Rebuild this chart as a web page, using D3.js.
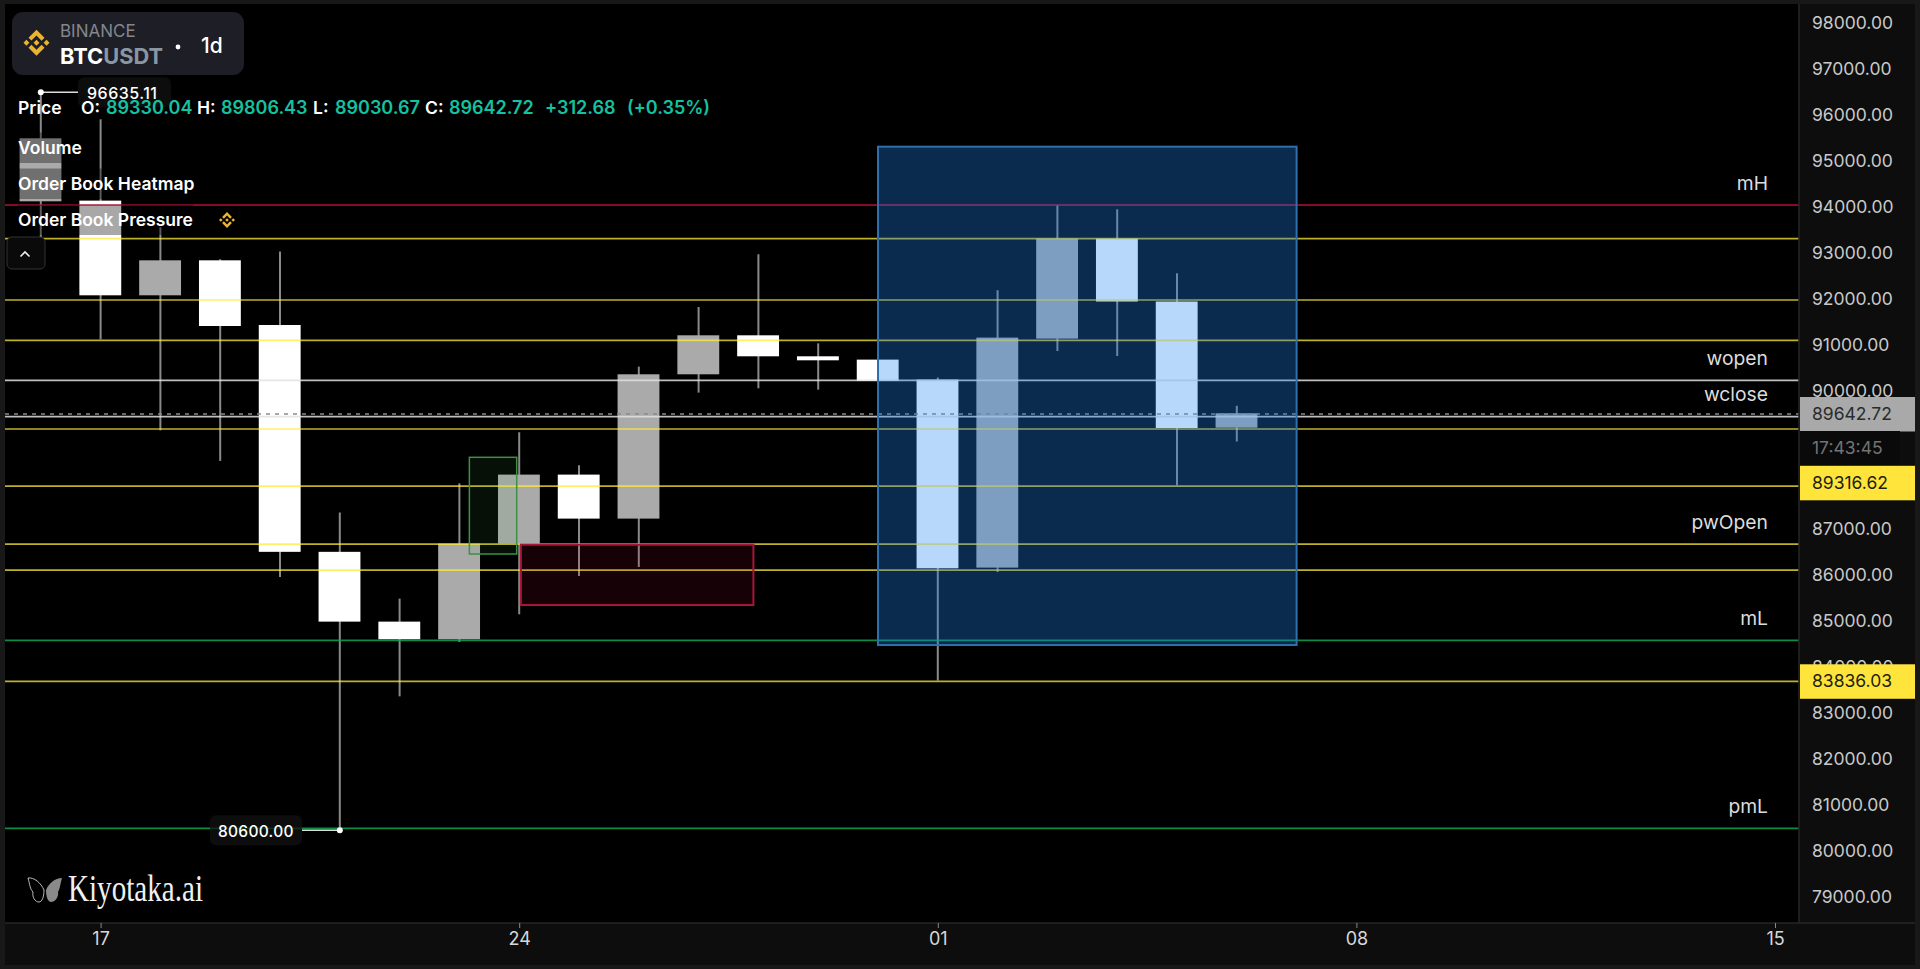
<!DOCTYPE html>
<html><head><meta charset="utf-8">
<script src="https://cdn.jsdelivr.net/npm/d3@7/dist/d3.min.js"></script>
<style>html,body{margin:0;padding:0;background:#181818;overflow:hidden}svg{display:block}text{font-family:Inter,"Noto Sans",sans-serif}</style>
</head><body><svg id="c" width="1920" height="969"></svg>
<script>
// ---- data ----
const firstDay = "2025-11-16";
const opens  = [94248,94263,92206,92966,91561,86633,85117,84733,86812,88311,87355,90490,91337,90881,90809,90375,86290,91265,93438,92071,89330];
const closes = [95617,92206,92966,91539,86633,85117,84733,86812,88311,87355,90490,91337,90881,90794,90344,86275,91287,93438,92071,89323,89642.72];
const highs  = [96635.11,96030,93683,92990,93155,87485,85617,88122,89230,88513,90657,91952,93097,91163,90809,90418,92315,94161,94074,92684,89806.43];
const lows   = [93423,91250,89273,88608,86086,80600,83494,84674,85276,86108,86303,90092,90186,90157,90344,83836.03,86195,90996,90887,88078,89030.67];
const priceTicks = [79000,80000,81000,82000,83000,84000,85000,86000,87000,90000,91000,92000,93000,94000,95000,96000,97000,98000];
const dateTicks = ["2025-11-17","2025-11-24","2025-12-01","2025-12-08","2025-12-15"];
const yellowLevels = [93451,92119,91244,89316.62,88078,86818,86253,83836.03];
const whiteLevels = [90375,89584];
const redLevels = [94183];
const greenLevels = [84726,80642];
const levelLabelNames = ["mH","wopen","wclose","pwOpen","mL","pmL"];
const levelLabelPrices = [94183,90375,89584,86818,84726,80642];
const lastPrice = 89642.72;
const countdown = "17:43:45";
const markedHigh = 96635.11, markedLow = 80600;
const ohlcLabels = ["O:","H:","L:","C:"];
const ohlcValues = ["89330.04","89806.43","89030.67","89642.72"];
const changeValues = ["+312.68","(+0.35%)"];
const legendRows = ["Volume","Order Book Heatmap","Order Book Pressure"];
const blueBox = ["2025-11-30T00:00Z","2025-12-07T00:00Z",95450,84624];
const greenBox = ["2025-11-23T04:00Z","2025-11-23T23:00Z",88702,86601];
const redBox = ["2025-11-24T00:40Z","2025-11-27T22:00Z",86803,85493];
// ---- layout ----
const parse = d => new Date(d.length === 10 ? d + "T00:00Z" : d);
const L=5,T=4,R=1799,B=923,PR=1915,PB=965;
const svg=d3.select("#c");
const x=d3.scaleUtc().domain([parse("2025-11-17"),parse("2025-12-15")]).range([100.6,1775]);
const y=d3.scaleLinear().domain([79000,98000]).range([903.9,29.3]);
const days=opens.map((_,i)=>d3.utcDay.offset(parse(firstDay),i));
const candles=days.map((d,i)=>({d,o:opens[i],c:closes[i],h:highs[i],l:lows[i]}));
const bw=(x(parse("2025-11-18"))-x(parse("2025-11-17")))*0.7;

svg.append("rect").attr("width",1920).attr("height",969).attr("fill","#181818");
svg.append("rect").attr("x",L).attr("y",T).attr("width",PR-L).attr("height",PB-T).attr("fill","#0d0d0d");
svg.append("rect").attr("x",L).attr("y",T).attr("width",R-L).attr("height",B-T).attr("fill","#000");
const plot=svg.append("g");
svg.append("clipPath").attr("id","pc").append("rect").attr("x",L).attr("y",T).attr("width",R-L).attr("height",B-T);
plot.attr("clip-path","url(#pc)");

// candles
const cg=plot.append("g").attr("transform","translate(0,-0.7)");
cg.selectAll("line.w").data(candles).join("line").attr("class","w")
 .attr("x1",d=>x(d.d)).attr("x2",d=>x(d.d)).attr("y1",d=>y(d.h)).attr("y2",d=>y(d.l))
 .attr("stroke","#8a8a8a").attr("stroke-width",2);
cg.selectAll("rect.b").data(candles).join("rect").attr("class","b")
 .attr("x",d=>x(d.d)-bw/2-0.3).attr("width",bw)
 .attr("y",d=>y(Math.max(d.o,d.c))).attr("height",d=>Math.abs(y(d.o)-y(d.c)))
 .attr("fill",d=>d.c>=d.o?"#aaaaaa":"#ffffff");

// levels
function levels(arr,col,op,w){plot.append("g").selectAll("line").data(arr).join("line")
 .attr("x1",L).attr("x2",R).attr("y1",d=>y(d)).attr("y2",d=>y(d)).attr("stroke",col).attr("stroke-opacity",op).attr("stroke-width",w);}
levels(yellowLevels,"#ffeb3b",0.75,1.7);
levels(whiteLevels,"#e0e0e0",0.85,1.7);
levels(redLevels,"#d3123f",0.85,1.7);
levels(greenLevels,"#0fa552",0.85,1.7);
plot.append("line").datum(lastPrice).attr("x1",L).attr("x2",R).attr("y1",d=>y(d)).attr("y2",d=>y(d))
 .attr("stroke","#8a8a8a").attr("stroke-width",1.5).attr("stroke-dasharray","4 5");

// boxes
function box(b,fill,stroke,w){plot.append("rect").datum(b)
 .attr("x",d=>x(parse(d[0]))).attr("width",d=>x(parse(d[1]))-x(parse(d[0])))
 .attr("y",d=>y(d[2])).attr("height",d=>y(d[3])-y(d[2]))
 .attr("fill",fill).attr("stroke",stroke).attr("stroke-width",w);}
box(greenBox,"rgba(76,175,80,0.09)","#3f8f45",1.5);
box(redBox,"rgba(214,20,60,0.1)","#a81638",2);
box(blueBox,"rgba(31,132,242,0.32)","#2f6fae",2);

// level labels
plot.append("g").selectAll("text").data(levelLabelNames).join("text")
 .attr("x",1768).attr("y",(d,i)=>y(levelLabelPrices[i])-22).attr("dy","0.35em").attr("text-anchor","end")
 .attr("fill","#dcdcdc").attr("font-size",19.3).text(d=>d);

// markers
function marker(price,day,bx,bw2,txt,tx,fs,ls){
 const g=plot.append("g"),px=x(parse(day)),py=y(price);
 g.append("rect").attr("x",bx).attr("y",py-15).attr("width",bw2).attr("height",30).attr("rx",6).attr("fill","rgba(18,18,18,0.75)");
 g.append("line").attr("x1",px).attr("x2",bx+bw2<px?bx+bw2:bx).attr("y1",py).attr("y2",py).attr("stroke","#ddd").attr("stroke-width",1.5);
 g.append("circle").attr("cx",px).attr("cy",py).attr("r",3).attr("fill","#fff");
 g.append("text").attr("x",tx).attr("y",py+1).attr("dy","0.35em").attr("fill","#fff").attr("font-size",fs).attr("font-weight",500).attr("letter-spacing",ls).text(txt);
}
marker(markedHigh,"2025-11-16",78,93,markedHigh.toFixed(2),87,16,0.5);
marker(markedLow,"2025-11-21",210,92,markedLow.toFixed(2),218,15.5,0.3);

// panels divider + axes
svg.append("line").attr("x1",R).attr("x2",R).attr("y1",T).attr("y2",B).attr("stroke","#262626").attr("stroke-width",1.5);
svg.append("line").attr("x1",L).attr("x2",PR).attr("y1",B).attr("y2",B).attr("stroke","#262626").attr("stroke-width",1.5);

const ya=svg.append("g").attr("transform","translate(1812,-6.6)")
 .call(d3.axisRight(y).tickValues(priceTicks).tickFormat(d=>d.toFixed(2)).tickSize(0).tickPadding(0));
ya.select(".domain").remove();
ya.selectAll("text").attr("fill","#c9c9c9").attr("font-size",17.5).attr("font-family","Inter");

const xa=svg.append("g").attr("transform",`translate(0,${B})`)
 .call(d3.axisBottom(x).tickValues(dateTicks.map(parse)).tickFormat(d3.utcFormat("%d")).tickSize(5).tickPadding(4));
xa.select(".domain").remove();
xa.selectAll("line").attr("stroke","#888");
xa.selectAll("text").attr("fill","#d8d8d8").attr("font-size",18).attr("font-family","Inter");

// price badges
function badge(yc,bg,fg,t,x1){svg.append("rect").attr("x",R+1).attr("y",yc-17).attr("width",x1-R-1).attr("height",34.5).attr("fill",bg);
 svg.append("text").attr("x",1812).attr("y",yc).attr("dy","0.35em").attr("fill",fg).attr("font-size",17.5).text(t);}
badge(y(lastPrice),"#a9a9a9","#2b2b2b",lastPrice.toFixed(2),PR);
badge(448,"#0a0a0a","#737373",countdown,1900);
badge(482.8,"#ffe53b","#1f1f10",(89316.62).toFixed(2),PR);
badge(y(83836.03),"#ffe53b","#1f1f10",(83836.03).toFixed(2),PR);

// symbol card
const binance=["M38.73 53.2l24.59-24.58 24.6 24.6 14.3-14.31L63.32 0 24.42 38.9l14.31 14.3z","M0 63.31l14.3-14.3 14.31 14.3-14.31 14.3z","M38.73 73.41l24.59 24.59 24.6-24.6 14.31 14.29-38.9 38.91-38.91-38.88-.02-.02 14.33-14.29z","M98 63.31l14.3-14.3 14.31 14.3-14.31 14.3z","M77.83 63.3L63.32 48.78 52.59 59.51l-1.24 1.23-2.54 2.54 14.51 14.5 14.51-14.47z"];
function icon(cx,cy,s){const g=svg.append("g").attr("transform",`translate(${cx-s/2},${cy-s/2}) scale(${s/126.61})`);
 binance.forEach(p=>g.append("path").attr("d",p).attr("fill","#e9b432"));}
svg.append("rect").attr("x",12).attr("y",12).attr("width",232).attr("height",63).attr("rx",11).attr("fill","#1e1f26");
icon(36.5,42.7,26);
svg.append("text").attr("x",60).attr("y",31).attr("dy","0.35em").attr("fill","#83868d").attr("font-size",17).text("BINANCE");
const st=svg.append("text").attr("x",60).attr("y",56).attr("dy","0.35em").attr("font-size",21.8).attr("font-weight",700);
st.append("tspan").attr("fill","#fff").text("BTC");
st.append("tspan").attr("fill","#8a96a3").text("USDT");
svg.append("circle").attr("cx",178).attr("cy",47).attr("r",2.4).attr("fill","#fff");
svg.append("text").attr("x",201).attr("y",46).attr("dy","0.35em").attr("fill","#fff").attr("font-size",21).attr("font-weight",500).text("1d");

// legend
const teal="#13c2a0";
function t(xp,yp,s,fill,fs){return svg.append("text").attr("x",xp).attr("y",yp).attr("dy","0.35em").attr("fill",fill).attr("font-size",fs).attr("font-weight",600).text(s);}
t(18,108,"Price","#fff",17.5);
[81,197,313,425].forEach((xp,i)=>t(xp,108,ohlcLabels[i],"#fff",17.5));
[106,221,335,449].forEach((xp,i)=>t(xp,108,ohlcValues[i],teal,18));
[545,627].forEach((xp,i)=>t(xp,108,changeValues[i],teal,18));
const rowY=[148,184,220],rowW=[64,176,175];
legendRows.forEach((s,i)=>{
 svg.append("rect").attr("x",18).attr("y",rowY[i]-15.5).attr("width",rowW[i]).attr("height",30.5).attr("fill","rgba(0,0,0,0.34)");
 t(18,rowY[i],s,"#fff",17.5);
});
icon(227,220,16);

// collapse button
svg.append("rect").attr("x",7).attr("y",237).attr("width",38).attr("height",32).attr("rx",5).attr("fill","#0a0a0a").attr("stroke","#333");
svg.append("path").attr("d","M20.5 256.5l4.5-4.5 4.5 4.5").attr("fill","none").attr("stroke","#eee").attr("stroke-width",1.6);

// watermark
const wm=svg.append("g").attr("transform","translate(28,877)");
wm.append("path").attr("d","M16 13C13 6 6 0 0 1C2 8 2 12 5 15C4 20 7 25 11 25C14 25 16 20 16 13Z").attr("fill","none").attr("stroke","#bbb").attr("stroke-width",1);
wm.append("path").attr("d","M18 13C21 6 27 1 34 1C32 8 32 12 30 15C31 20 27 25 23 25C20 25 18 20 18 13Z").attr("fill","#8a8a8a");
svg.append("text").attr("x",68).attr("y",901).attr("fill","#f0f0f0").attr("font-size",37).attr("textLength",135).attr("lengthAdjust","spacingAndGlyphs").style("font-family","'Liberation Serif',serif").text("Kiyotaka.ai");
</script></body></html>
